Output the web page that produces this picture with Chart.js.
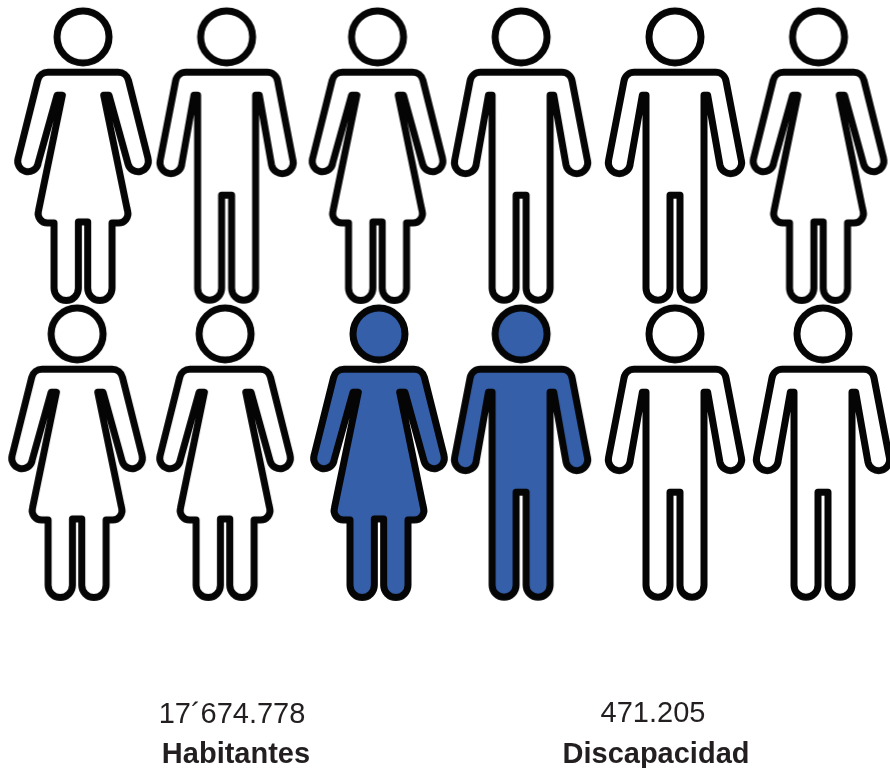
<!DOCTYPE html>
<html lang="es">
<head>
<meta charset="utf-8">
<title>Habitantes y discapacidad</title>
<script src="https://cdn.jsdelivr.net/npm/chart.js@4/dist/chart.umd.js"></script>
<style>
  html, body { margin: 0; background: #fff; }
  #wrap { position: relative; width: 890px; height: 768px; overflow: hidden; }
  #wrap canvas { position: absolute; left: 0; top: 0; }
  .txt { position: absolute; transform: translateX(-50%); white-space: nowrap; color: #231f20;
         font-family: "Liberation Sans", Arial, sans-serif; font-size: 29px; line-height: 34px; }
  .txt.b { font-weight: bold; }
</style>
</head>
<body>
<div id="wrap">
  <canvas id="peopleChart" width="890" height="768"></canvas>
  <div class="txt" style="left:232px;top:696px" id="val0"></div>
  <div class="txt b" style="left:236px;top:736px" id="lab0"></div>
  <div class="txt" style="left:653px;top:695px" id="val1"></div>
  <div class="txt b" style="left:656px;top:736px" id="lab1"></div>
</div>
<script>
// 12 figures left to right
const personColumn = [0, 0.97, 1.99, 2.96, 4, 4.97, -0.04, 0.96, 2, 2.96, 4, 5];
const personRow = [0, 0, 0, 0, 0, 0, 1, 1, 1, 1, 1, 1];
const personKind = ['m', 'h', 'm', 'h', 'h', 'm', 'm', 'm', 'm', 'h', 'h', 'h'];
const personMarked = [0, 0, 0, 0, 0, 0, 0, 0, 1, 1, 0, 0];
const totals = ['17´674.778', '471.205'];
const totalLabels = ['Habitantes', 'Discapacidad'];

const BLUE = '#365fa9';

function womanPath(p) {
  const m = x => 496 - x;
  p.moveTo(248, 216);
  p.arcTo(378, 216, 443, 470, 32);
  p.lineTo(443, 474);
  p.arc(413, 483, 31, -16 * Math.PI / 180, 164 * Math.PI / 180);
  p.lineTo(326, 285);
  p.lineTo(310, 285);
  p.lineTo(380, 625);
  p.arcTo(390, 668, 335, 668, 28);
  p.lineTo(335, 668);
  p.lineTo(335, 864);
  p.arc(298.5, 864, 36.5, 0, Math.PI);
  p.lineTo(262, 665);
  p.lineTo(m(262), 665);
  p.lineTo(m(262), 864);
  p.arc(m(298.5), 864, 36.5, 0, Math.PI);
  p.lineTo(m(335), 668);
  p.arcTo(m(390), 668, m(380), 625, 28);
  p.lineTo(m(310), 285);
  p.lineTo(m(326), 285);
  p.lineTo(m(384), 493);
  p.arc(m(413), 483, 31, 16 * Math.PI / 180, 196 * Math.PI / 180);
  p.arcTo(m(378), 216, 248, 216, 32);
  p.closePath();
}

function manPath(p) {
  const m = x => 1356 - x;
  p.moveTo(678, 216);
  p.arcTo(826, 216, 877, 478, 32);
  p.lineTo(877, 480);
  p.arc(845, 487, 33, -12 * Math.PI / 180, 168 * Math.PI / 180);
  p.lineTo(776, 285);
  p.lineTo(765, 285);
  p.lineTo(765, 864);
  p.arc(729, 864, 36, 0, Math.PI);
  p.lineTo(693, 585);
  p.lineTo(m(693), 585);
  p.lineTo(m(693), 864);
  p.arc(m(729), 864, 36, 0, Math.PI);
  p.lineTo(m(765), 285);
  p.lineTo(m(776), 285);
  p.lineTo(m(813), 494);
  p.arc(m(845), 487, 33, 12 * Math.PI / 180, 192 * Math.PI / 180);
  p.arcTo(m(826), 216, 678, 216, 32);
  p.closePath();
}

// sprite used as pointStyle, traced at 3x
function makeFigure(kind, marked) {
  const c = document.createElement('canvas');
  c.width = 150;
  c.height = 300;
  const ctx = c.getContext('2d');
  const cx = kind === 'm' ? 248 : 678;
  ctx.filter = 'blur(0.4px)';
  ctx.translate(75, 150);
  ctx.scale(1 / 3, 1 / 3);
  ctx.translate(-cx, -467);
  ctx.lineWidth = 21;
  ctx.lineJoin = 'round';
  ctx.strokeStyle = '#050505';

  const body = new Path2D();
  if (kind === 'm') womanPath(body); else manPath(body);
  const head = new Path2D();
  head.arc(cx, 110, 78, 0, Math.PI * 2);

  if (marked) {
    ctx.fillStyle = BLUE;
    ctx.fill(body);
    ctx.fill(head);
  }
  ctx.stroke(body);
  ctx.stroke(head);
  return c;
}

const figures = {
  m0: makeFigure('m', false),
  m1: makeFigure('m', true),
  h0: makeFigure('h', false),
  h1: makeFigure('h', true)
};

new Chart(document.getElementById('peopleChart'), {
  type: 'scatter',
  data: {
    datasets: [{
      label: 'Personas',
      data: personColumn.map((x, i) => ({ x, y: personRow[i] })),
      pointStyle: personKind.map((k, i) => figures[k + personMarked[i]]),
      clip: false
    }]
  },
  options: {
    responsive: false,
    animation: false,
    layout: { padding: 0, autoPadding: false },
    plugins: { legend: { display: false }, tooltip: { enabled: false } },
    scales: {
      x: { type: 'linear', display: false, min: -0.561, max: 5.453 },
      y: { type: 'linear', display: false, reverse: true, min: -0.525, max: 2.061 }
    }
  }
});

document.getElementById('val0').textContent = totals[0];
document.getElementById('lab0').textContent = totalLabels[0];
document.getElementById('val1').textContent = totals[1];
document.getElementById('lab1').textContent = totalLabels[1];
</script>
</body>
</html>
